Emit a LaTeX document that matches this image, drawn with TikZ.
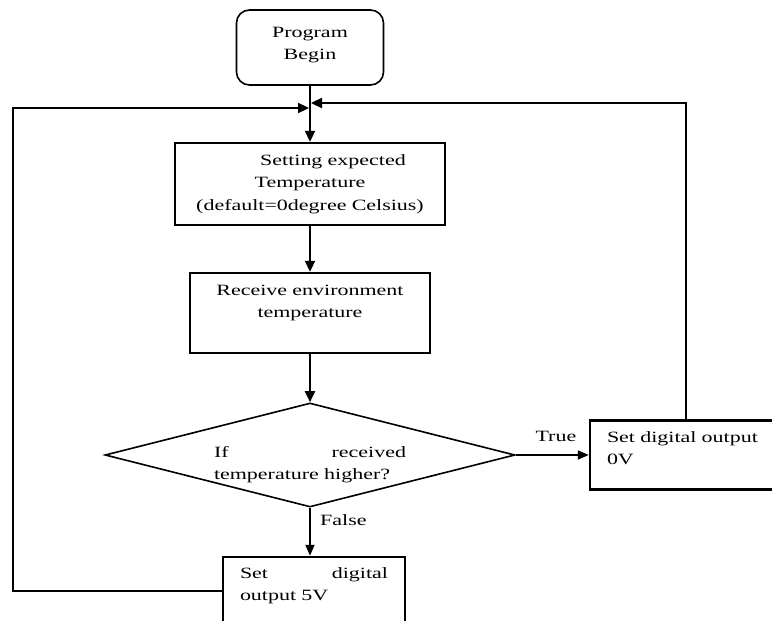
\documentclass[tikz,border=0pt]{standalone}
\usepackage{fontspec}
\setmainfont{Liberation Serif}[FakeStretch=1.4]
\usetikzlibrary{shapes,arrows.meta}

\begin{document}
\begin{tikzpicture}[x=1pt,y=-1pt]
\tikzstyle{every node}=[font=\fontsize{15.7}{22.5}\selectfont]
\tikzstyle{terminal}=[rectangle,rounded corners=13pt,draw,line width=1.6pt,text width=113pt,align=center,inner xsep=17pt,inner ysep=0pt]
\tikzstyle{process}=[rectangle,draw,line width=2.5pt,inner xsep=17pt,inner ysep=0pt]
\tikzstyle{decision}=[diamond,draw,line width=1.6pt,aspect=3.94,inner sep=0pt,minimum width=410pt,minimum height=104pt,text width=192pt,align=left]
\tikzstyle{flow}=[line width=2.3pt,-{Triangle[length=11pt,width=10pt]}]
\tikzstyle{branch}=[line width=1.7pt,-{Triangle[length=11pt,width=9pt]}]

\clip (0,0) rectangle (772,621);

\node[terminal,text height=27pt,text depth=48pt] (start) at (310,47.5) {Program\\Begin};
\node[process,text width=236pt,align=center,text height=22pt,text depth=60pt] (set) at (310,184)
  {\hspace*{46pt}Setting expected\\Temperature\\(default=0degree Celsius)};
\node[process,text width=206pt,align=center,text height=22pt,text depth=58pt] (recv) at (310,313)
  {Receive environment\\temperature};
\node[decision,text height=26pt,text depth=22pt] (dec) at (310,455)
  {If \hfill received\\temperature higher?};
\node[process,text width=170pt,align=left,text height=21.5pt,text depth=47.5pt] (out0) at (692,455)
  {Set digital output\\0V};
\node[process,text width=148pt,align=left,text height=21pt,text depth=47pt] (out5) at (314,591)
  {Set \hfill digital\\output 5V};

\coordinate (ltop) at (13,108);
\coordinate (rtop) at (686,103);

\draw[flow] (start) -- (set);
\draw[flow] (set) -- (recv);
\draw[flow] (recv) -- (dec);
\draw[branch] (dec) -- node[above=9pt,pos=0.55] {True} (out0);
\draw[branch] (dec.south) -- node[right=6pt,pos=0.25] {False} (dec.south |- out5.north);
% loop back
\draw[flow,shorten >=1pt] (out5.west) -| (ltop) -- (set.north |- ltop);
\draw[flow,shorten >=1pt] (out0.north -| rtop) |- (set.north |- rtop);
\end{tikzpicture}
\end{document}
